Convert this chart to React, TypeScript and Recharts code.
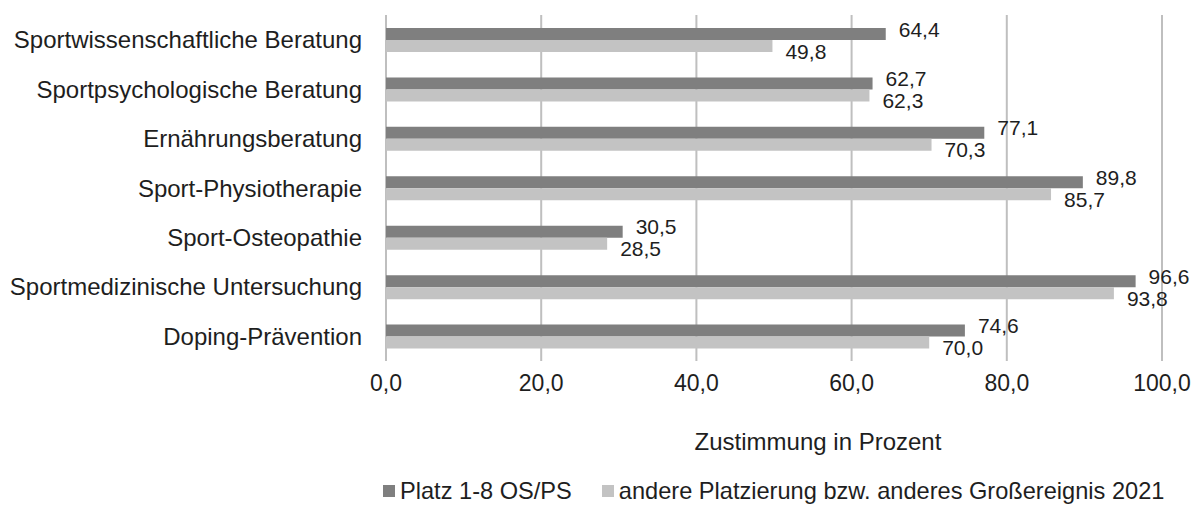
import React from 'react';
import { BarChart, Bar, XAxis, YAxis, CartesianGrid, Legend, LabelList } from 'recharts';

const categories = [
  'Sportwissenschaftliche Beratung',
  'Sportpsychologische Beratung',
  'Ernährungsberatung',
  'Sport-Physiotherapie',
  'Sport-Osteopathie',
  'Sportmedizinische Untersuchung',
  'Doping-Prävention',
];
const platzValues = [64.4, 62.7, 77.1, 89.8, 30.5, 96.6, 74.6];
const andereValues = [49.8, 62.3, 70.3, 85.7, 28.5, 93.8, 70.0];
const xTicks = [0, 20, 40, 60, 80, 100];
const seriesNames = ['Platz 1-8 OS/PS', 'andere Platzierung bzw. anderes Großereignis 2021'];
const axisTitle = 'Zustimmung in Prozent';

const data = categories.map((name, i) => ({ name, platz: platzValues[i], andere: andereValues[i] }));

const DARK = '#7f7f7f';
const LIGHT = '#c3c3c3';
const TEXT = '#1e1e1e';
const FONT = '"Liberation Sans", Arial, sans-serif';

const fmt = (v: number) => v.toFixed(1).replace('.', ',');

const makeLabel = (dy: number) => (props: any) => {
  const { x, y, width, height, value } = props;
  return (
    <text
      x={Number(x) + Number(width) + 13}
      y={Number(y) + Number(height) / 2 + dy}
      dominantBaseline="central"
      fontSize={21}
      fontFamily={FONT}
      fill={TEXT}
    >
      {fmt(Number(value))}
    </text>
  );
};

const sq = (color: string, ml: number) => (
  <div style={{ width: 12, height: 12, flex: '0 0 12px', background: color, marginLeft: ml, marginRight: 5 }} />
);

const renderLegend = () => (
  <div style={{ display: 'flex', alignItems: 'center', height: 28, width: 1199, fontFamily: FONT, fontSize: 23.6, color: TEXT, whiteSpace: 'nowrap', overflow: 'visible' }}>
    {sq(DARK, 383)}
    <span style={{ flexShrink: 0 }}>{seriesNames[0]}</span>
    {sq(LIGHT, 30)}
    <span style={{ flexShrink: 0 }}>{seriesNames[1]}</span>
  </div>
);

export default function App() {
  return (
    <div style={{ position: 'absolute', left: 0, top: 0, background: '#fff' }}>
      <BarChart
        width={1199}
        height={505}
        data={data}
        layout="vertical"
        margin={{ top: 15, right: 37, bottom: 0, left: 0 }}
        barGap={0}
        barSize={12}
      >
        <CartesianGrid horizontal={false} vertical={true} stroke="#bfbfbf" strokeWidth={2} />
        <XAxis
          type="number"
          domain={[0, 100]}
          ticks={xTicks}
          tickFormatter={fmt}
          axisLine={false}
          tickLine={false}
          tickSize={0}
          tickMargin={14}
          height={116}
          tick={{ fontSize: 23, fill: TEXT, fontFamily: FONT }}
          label={{
            content: (p: any) => {
              const vb = p.viewBox || {};
              return (
                <text
                  x={vb.x + vb.width / 2 + 44}
                  y={vb.y + 80}
                  textAnchor="middle"
                  dominantBaseline="central"
                  fontSize={24}
                  fontFamily={FONT}
                  fill={TEXT}
                >
                  {axisTitle}
                </text>
              );
            },
          }}
        />
        <YAxis
          type="category"
          dataKey="name"
          width={386}
          axisLine={false}
          tickLine={false}
          tickSize={0}
          tickMargin={24}
          interval={0}
          tick={{ fontSize: 24, fill: TEXT, fontFamily: FONT }}
        />
        <Legend verticalAlign="bottom" height={28} content={renderLegend} wrapperStyle={{ left: 0, width: 1199, overflow: 'visible' }} />
        <Bar dataKey="platz" name={seriesNames[0]} fill={DARK} isAnimationActive={false}>
          <LabelList dataKey="platz" content={makeLabel(-5)} />
        </Bar>
        <Bar dataKey="andere" name={seriesNames[1]} fill={LIGHT} isAnimationActive={false}>
          <LabelList dataKey="andere" content={makeLabel(5)} />
        </Bar>
      </BarChart>
    </div>
  );
}
